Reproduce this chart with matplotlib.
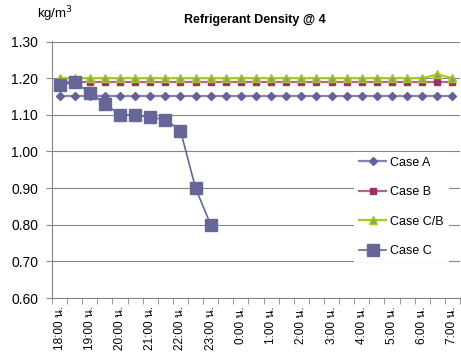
import numpy as np
import matplotlib
matplotlib.use('Agg')
import matplotlib.pyplot as plt

plt.rcParams['font.family'] = ['Liberation Sans', 'Loma', 'DejaVu Sans']

# --- data ---
hours = ['18:00', '19:00', '20:00', '21:00', '22:00', '23:00', '0:00',
         '1:00', '2:00', '3:00', '4:00', '5:00', '6:00', '7:00']
tick_labels = [h + ' น.' for h in hours]
n_points = 27  # half-hour steps 18:00 .. 7:00

case_a = [1.15] * 27
case_b = [1.19] * 27
case_cb = [1.20] * 25 + [1.21, 1.20]
case_c = [1.18, 1.19, 1.16, 1.13, 1.10, 1.10, 1.093, 1.087, 1.057, 0.90, 0.80]

x = np.arange(n_points)

fig = plt.figure(figsize=(4.61, 3.53), dpi=100)
ax = fig.add_axes([52 / 461, 1 - 298 / 353, 408 / 461, 256.5 / 353])

ax.plot(x, case_a, color='#8383B6', lw=1.6, marker='D', ms=4.5,
        mfc='#62629C', mec='#62629C', label='Case A', zorder=3)
ax.plot(x, case_b, color='#B8628F', lw=1.6, marker='s', ms=5,
        mfc='#993366', mec='#993366', label='Case B', zorder=3)
ax.plot(x, case_cb, color='#A2CC1E', lw=1.6, marker='^', ms=6,
        mfc='#8E9A80', mec='#A2CC1E', label='Case C/B', zorder=4)
ax.plot(np.arange(len(case_c)), case_c, color='#66669A', lw=1.2, marker='s',
        ms=9, mfc='#666699', mec='#666699', label='Case C', zorder=5)

ax.set_xlim(-0.5, n_points - 0.5)
ax.set_ylim(0.6, 1.3)
ax.set_yticks(np.arange(0.6, 1.31, 0.1))
ax.set_yticklabels(['%.2f' % v for v in np.arange(0.6, 1.31, 0.1)], fontsize=10)
ax.set_xticks(np.arange(0, n_points, 2))
ax.set_xticklabels(tick_labels, rotation=90, fontsize=8.5)
ax.set_xticks(np.arange(-0.5, n_points, 1), minor=True)
ax.tick_params(axis='x', which='major', length=0, pad=6)
ax.tick_params(axis='x', which='minor', length=4, color='#868686')
ax.tick_params(axis='y', length=4, color='#868686', pad=6)

ax.grid(axis='y', color='#868686', lw=0.8)
ax.set_axisbelow(True)
for s in ['top', 'right']:
    ax.spines[s].set_visible(False)
for s in ['left', 'bottom']:
    ax.spines[s].set_color('#868686')

fig.text(255 / 461, 1 - 20 / 353, 'Refrigerant Density @ 4', ha='center',
         va='center', fontsize=9, fontweight='bold')
fig.text(37 / 461, 1 - 14 / 353, 'kg/m$^3$', ha='left', va='center', fontsize=9.5)

leg = ax.legend(loc='upper left', bbox_to_anchor=(0.74, 0.57), frameon=True,
                fontsize=9, labelspacing=1.4, handlelength=2.2, handletextpad=0.3,
                borderaxespad=0, fancybox=False, edgecolor='none', framealpha=1)

fig.savefig('out.png', dpi=100)
